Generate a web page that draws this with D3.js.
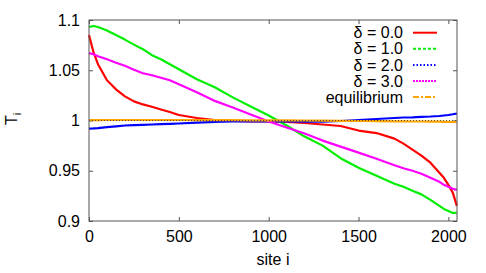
<!DOCTYPE html>
<html>
<head>
<meta charset="utf-8">
<script src="https://cdn.jsdelivr.net/npm/d3@7"></script>
<style>
  body { margin: 0; background: #fff; }
  text { font-family: "Liberation Sans", Arial, sans-serif; font-size: 16px; fill: #000; }
</style>
</head>
<body>
<svg id="chart" width="486" height="273"></svg>
<script>
let sites = [0, 25, 50, 100, 150, 200, 250, 300, 350, 400, 450, 500, 600, 700, 800, 900, 1000,
  1100, 1200, 1300, 1400, 1500, 1600, 1700, 1750, 1800, 1850, 1900, 1950, 1975, 2000, 2025, 2047]

// temperature profiles T_i
let delta0 = [1.085, 1.068, 1.056, 1.040, 1.031, 1.024, 1.019, 1.016, 1.0137, 1.011, 1.0085, 1.0055, 1.0025,
  1.0005, 0.9995, 0.999, 0.999, 0.9985, 0.9975, 0.996, 0.9945, 0.990, 0.9875, 0.982, 0.977, 0.971, 0.965,
  0.958, 0.948, 0.943, 0.936, 0.928, 0.915]
let delta1 = [1.093, 1.094, 1.093, 1.0895, 1.085, 1.0805, 1.0755, 1.071, 1.065, 1.061, 1.056, 1.051, 1.041,
  1.033, 1.023, 1.014, 1.005, 0.995, 0.984, 0.975, 0.9625, 0.953, 0.945, 0.937, 0.934, 0.930, 0.9265,
  0.921, 0.915, 0.912, 0.910, 0.908, 0.908]
let delta2 = [0.992, 0.9922, 0.9925, 0.9935, 0.9942, 0.995, 0.9953, 0.9957, 0.996, 0.9963, 0.9966, 0.997, 0.9978,
  0.9987, 0.999, 0.999, 0.999, 0.999, 0.9989, 0.9988, 0.9995, 1.0005, 1.0015, 1.0025, 1.003, 1.0032, 1.0037,
  1.004, 1.0045, 1.005, 1.0055, 1.0062, 1.007]
let delta3 = [1.067, 1.066, 1.064, 1.061, 1.0575, 1.0545, 1.0505, 1.047, 1.045, 1.0425, 1.040, 1.036, 1.028,
  1.0195, 1.013, 1.006, 0.999, 0.993, 0.987, 0.980, 0.974, 0.968, 0.962, 0.9555, 0.9525, 0.950, 0.947,
  0.943, 0.939, 0.936, 0.934, 0.932, 0.931]
let equil = [1.0003, 1.0004, 1.0004, 1.0005, 1.0005, 1.0005, 1.0005, 1.0005, 1.0005, 1.0005, 1.0005, 1.0005, 1.0004,
  1.0003, 1.0003, 1.0002, 1.0002, 1.0001, 1.0, 0.9998, 0.9997, 0.9995, 0.9993, 0.9992, 0.9991, 0.999, 0.999,
  0.9989, 0.9988, 0.9987, 0.9986, 0.9985, 0.9985]

let seriesNames = ["δ = 0.0", "δ = 1.0", "δ = 2.0", "δ = 3.0", "equilibrium"]
let seriesValues = [delta0, delta1, delta2, delta3, equil]
let seriesColors = ["#ff0000", "#00ee00", "#0000ff", "#ff00ff", "#ffa500"]
let seriesDash = [null, "3,2", "1.5,2", "2,1", "6,2,2,2"]

let xTicks = [0, 500, 1000, 1500, 2000]
let yTicks = [0.9, 0.95, 1.0, 1.05, 1.1]

let margin = {left: 89, right: 29, top: 20, bottom: 52}
let W = 486, H = 273
let svg = d3.select("#chart")

let x = d3.scaleLinear().domain([0, 2048]).range([margin.left, W - margin.right])
let y = d3.scaleLinear().domain([0.9, 1.1]).range([H - margin.bottom, margin.top])

// axes with inward ticks, mirrored on top and right
let fmt = d => String(d)
svg.append("g").attr("transform", `translate(0,${y(0.9)})`)
  .call(d3.axisBottom(x).tickValues(xTicks).tickSize(-4).tickPadding(10).tickFormat(fmt))
svg.append("g").attr("transform", `translate(0,${y(1.1)})`)
  .call(d3.axisTop(x).tickValues(xTicks).tickSize(-4).tickFormat(""))
svg.append("g").attr("transform", `translate(${x(0)},0)`)
  .call(d3.axisLeft(y).tickValues(yTicks).tickSize(-4).tickPadding(9).tickFormat(fmt))
svg.append("g").attr("transform", `translate(${x(2048)},0)`)
  .call(d3.axisRight(y).tickValues(yTicks).tickSize(-4).tickFormat(""))
svg.selectAll(".domain").remove()
svg.selectAll(".tick line").attr("stroke", "#555")
svg.selectAll(".tick text").style("font-size", "16px").attr("font-family", null)

// curves
let line = d3.line().x((d, i) => x(sites[i])).y(d => y(d))
svg.append("g").selectAll("path")
  .data(seriesValues).enter()
  .append("path")
  .attr("d", d => line(d))
  .attr("fill", "none")
  .attr("stroke", (d, i) => seriesColors[i])
  .attr("stroke-width", 2.2)
  .attr("stroke-linejoin", "round")

// reference line at T = 1
svg.append("line")
  .attr("x1", x(0)).attr("x2", x(2048))
  .attr("y1", y(1)).attr("y2", y(1))
  .attr("stroke", "#333").attr("stroke-width", 0.8).attr("stroke-dasharray", "1,2")

// frame
svg.append("rect")
  .attr("x", x(0)).attr("y", y(1.1))
  .attr("width", x(2048) - x(0)).attr("height", y(0.9) - y(1.1))
  .attr("fill", "none").attr("stroke", "#555").attr("stroke-width", 1)

// legend
let legend = svg.append("g").selectAll("g")
  .data(seriesNames).enter()
  .append("g")
  .attr("transform", (d, i) => `translate(0,${32.7 + i * 16.1})`)
legend.append("text")
  .attr("x", 403).attr("dy", "0.35em")
  .attr("text-anchor", "end")
  .text(d => d)
legend.append("line")
  .attr("x1", 413).attr("x2", 437)
  .attr("stroke", (d, i) => seriesColors[i])
  .attr("stroke-width", 2)
  .attr("stroke-dasharray", (d, i) => seriesDash[i])

// axis titles
svg.append("text")
  .attr("x", (x(0) + x(2048)) / 2).attr("y", 265)
  .attr("text-anchor", "middle")
  .text("site i")
let yl = svg.append("text")
  .attr("transform", "translate(16.5,119) rotate(-90)")
  .attr("text-anchor", "middle")
yl.append("tspan").text("T")
yl.append("tspan").attr("dy", 4).style("font-size", "11px").text("i")
</script>
</body>
</html>
